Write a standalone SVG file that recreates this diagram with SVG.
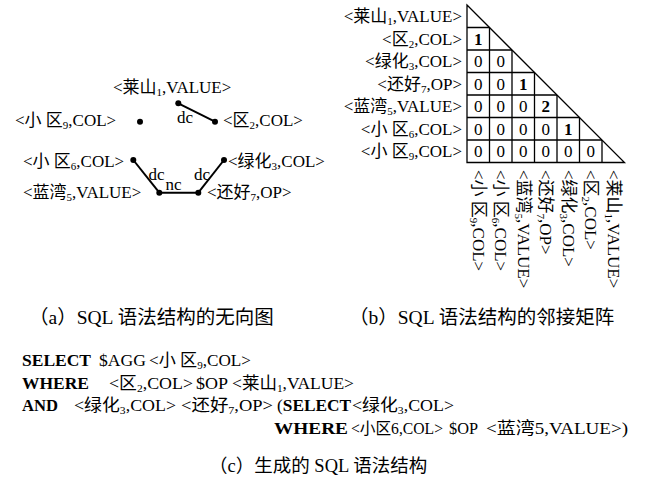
<svg xmlns="http://www.w3.org/2000/svg" width="645" height="487" viewBox="0 0 645 487">
  <style>
    .t { font-family: "Liberation Serif", "Noto Sans CJK SC", serif; font-size: 17px; fill: #000; }
    .b { font-weight: bold; }
    .sub { font-size: 11px; }
    .cap { font-family: "Liberation Serif", "Noto Sans CJK SC", serif; font-size: 19.5px; fill: #000; }
    .edge { stroke: #000; stroke-width: 2; fill: none; }
    .grid { stroke: #000; stroke-width: 1.3; fill: none; }
    .dot { fill: #000; }
    .num { font-family: "Liberation Serif", serif; font-size: 17px; fill: #000; text-anchor: middle; }
  </style>
  <rect width="645" height="487" fill="#fff"/>

  <!-- (a) undirected graph -->
  <g id="connectors">
    <line class="edge" x1="178.3" y1="103.3" x2="215" y2="121.7"/>
    <text class="t" x="185" y="123" text-anchor="middle">dc</text>
    <line class="edge" x1="133.3" y1="160" x2="159.3" y2="192.7"/>
    <text class="t" x="156.5" y="180" text-anchor="middle">dc</text>
    <line class="edge" x1="159.3" y1="192.7" x2="198.3" y2="192.7"/>
    <text class="t" x="173.5" y="190" text-anchor="middle">nc</text>
    <line class="edge" x1="198.3" y1="192.7" x2="224" y2="160"/>
    <text class="t" x="202" y="180" text-anchor="middle">dc</text>
  </g>

  <g id="node-laishan1">
    <circle class="dot" cx="178.3" cy="103.3" r="3"/>
    <text class="t" x="113" y="93">&lt;莱山<tspan class="sub" dy="3">1</tspan><tspan dy="-3">,VALUE&gt;</tspan></text>
  </g>
  <g id="node-qu2">
    <circle class="dot" cx="215" cy="121.7" r="3"/>
    <text class="t" x="223" y="126">&lt;区<tspan class="sub" dy="3">2</tspan><tspan dy="-3">,COL&gt;</tspan></text>
  </g>
  <g id="node-xiaoqu9">
    <circle class="dot" cx="140" cy="121.7" r="3"/>
    <text class="t" x="15" y="126">&lt;小 区<tspan class="sub" dy="3">9</tspan><tspan dy="-3">,COL&gt;</tspan></text>
  </g>
  <g id="node-xiaoqu6">
    <circle class="dot" cx="133.3" cy="160" r="3"/>
    <text class="t" x="23" y="167">&lt;小 区<tspan class="sub" dy="3">6</tspan><tspan dy="-3">,COL&gt;</tspan></text>
  </g>
  <g id="node-lvhua3">
    <circle class="dot" cx="224" cy="160" r="3"/>
    <text class="t" x="228" y="167">&lt;绿化<tspan class="sub" dy="3">3</tspan><tspan dy="-3">,COL&gt;</tspan></text>
  </g>
  <g id="node-lanwan5">
    <circle class="dot" cx="159.3" cy="192.7" r="3"/>
    <text class="t" x="23" y="198">&lt;蓝湾<tspan class="sub" dy="3">5</tspan><tspan dy="-3">,VALUE&gt;</tspan></text>
  </g>
  <g id="node-haihao7">
    <circle class="dot" cx="198.3" cy="192.7" r="3"/>
    <text class="t" x="207" y="198">&lt;还好<tspan class="sub" dy="3">7</tspan><tspan dy="-3">,OP&gt;</tspan></text>
  </g>

  <!-- (b) lower-triangular adjacency matrix -->
  <g id="matrix">
    <path class="grid" d="M467 5 L624.5 162.5 L467 162.5 Z"/>
    <path class="grid" d="M489.5 27.5 V162.5 M512 50 V162.5 M534.5 72.5 V162.5 M557 95 V162.5 M579.5 117.5 V162.5 M602 140 V162.5"/>
    <path class="grid" d="M467 27.5 H489.5 M467 50 H512 M467 72.5 H534.5 M467 95 H557 M467 117.5 H579.5 M467 140 H602"/>

    <g id="row-labels" class="t" text-anchor="end">
      <text x="462" y="22">&lt;莱山<tspan class="sub" dy="3">1</tspan><tspan dy="-3">,VALUE&gt;</tspan></text>
      <text x="462" y="45">&lt;区<tspan class="sub" dy="3">2</tspan><tspan dy="-3">,COL&gt;</tspan></text>
      <text x="462" y="67">&lt;绿化<tspan class="sub" dy="3">3</tspan><tspan dy="-3">,COL&gt;</tspan></text>
      <text x="462" y="90">&lt;还好<tspan class="sub" dy="3">7</tspan><tspan dy="-3">,OP&gt;</tspan></text>
      <text x="462" y="112">&lt;蓝湾<tspan class="sub" dy="3">5</tspan><tspan dy="-3">,VALUE&gt;</tspan></text>
      <text x="462" y="135">&lt;小 区<tspan class="sub" dy="3">6</tspan><tspan dy="-3">,COL&gt;</tspan></text>
      <text x="462" y="157">&lt;小 区<tspan class="sub" dy="3">9</tspan><tspan dy="-3">,COL&gt;</tspan></text>
    </g>

    <g id="cells">
      <text class="num b" x="478.25" y="45">1</text>
      <text class="num" x="478.25" y="67">0</text>
      <text class="num" x="500.75" y="67">0</text>
      <text class="num" x="478.25" y="90">0</text>
      <text class="num" x="500.75" y="90">0</text>
      <text class="num b" x="523.25" y="90">1</text>
      <text class="num" x="478.25" y="112">0</text>
      <text class="num" x="500.75" y="112">0</text>
      <text class="num" x="523.25" y="112">0</text>
      <text class="num b" x="545.75" y="112">2</text>
      <text class="num" x="478.25" y="135">0</text>
      <text class="num" x="500.75" y="135">0</text>
      <text class="num" x="523.25" y="135">0</text>
      <text class="num" x="545.75" y="135">0</text>
      <text class="num b" x="568.25" y="135">1</text>
      <text class="num" x="478.25" y="157">0</text>
      <text class="num" x="500.75" y="157">0</text>
      <text class="num" x="523.25" y="157">0</text>
      <text class="num" x="545.75" y="157">0</text>
      <text class="num" x="568.25" y="157">0</text>
      <text class="num" x="590.75" y="157">0</text>
    </g>

    <g id="column-labels" class="t">
      <text x="472.75" y="170" transform="rotate(90 472.75 170)">&lt;小 区<tspan class="sub" dy="3">9</tspan><tspan dy="-3">,COL&gt;</tspan></text>
      <text x="495.25" y="170" transform="rotate(90 495.25 170)">&lt;小 区<tspan class="sub" dy="3">6</tspan><tspan dy="-3">,COL&gt;</tspan></text>
      <text x="517.75" y="170" transform="rotate(90 517.75 170)">&lt;蓝湾<tspan class="sub" dy="3">5</tspan><tspan dy="-3">,VALUE&gt;</tspan></text>
      <text x="540.25" y="170" transform="rotate(90 540.25 170)">&lt;还好<tspan class="sub" dy="3">7</tspan><tspan dy="-3">,OP&gt;</tspan></text>
      <text x="562.75" y="170" transform="rotate(90 562.75 170)">&lt;绿化<tspan class="sub" dy="3">3</tspan><tspan dy="-3">,COL&gt;</tspan></text>
      <text x="585.25" y="170" transform="rotate(90 585.25 170)">&lt;区<tspan class="sub" dy="3">2</tspan><tspan dy="-3">,COL&gt;</tspan></text>
      <text x="607.75" y="170" transform="rotate(90 607.75 170)">&lt;莱山<tspan class="sub" dy="3">1</tspan><tspan dy="-3">,VALUE&gt;</tspan></text>
    </g>
  </g>

  <!-- captions -->
  <text class="cap" x="29" y="324">（a）SQL 语法结构的无向图</text>
  <text class="cap" x="349" y="324">（b）SQL 语法结构的邻接矩阵</text>

  <!-- (c) generated SQL structure: each token is fitted to its column -->
  <g id="sql" class="t">
    <text class="b" x="22" y="366" textLength="69" lengthAdjust="spacingAndGlyphs">SELECT</text>
    <text x="99" y="366" textLength="47" lengthAdjust="spacingAndGlyphs">$AGG</text>
    <text x="149" y="366" textLength="102" lengthAdjust="spacingAndGlyphs">&lt;小 区<tspan class="sub" dy="3">9</tspan><tspan dy="-3">,COL&gt;</tspan></text>

    <text class="b" x="22" y="388.5" textLength="67" lengthAdjust="spacingAndGlyphs">WHERE</text>
    <text x="109" y="388.5" textLength="84" lengthAdjust="spacingAndGlyphs">&lt;区<tspan class="sub" dy="3">2</tspan><tspan dy="-3">,COL&gt;</tspan></text>
    <text x="196" y="388.5" textLength="32" lengthAdjust="spacingAndGlyphs">$OP</text>
    <text x="232" y="388.5" textLength="122" lengthAdjust="spacingAndGlyphs">&lt;莱山<tspan class="sub" dy="3">1</tspan><tspan dy="-3">,VALUE&gt;</tspan></text>

    <text class="b" x="22" y="411" textLength="36" lengthAdjust="spacingAndGlyphs">AND</text>
    <text x="74" y="411" textLength="102" lengthAdjust="spacingAndGlyphs">&lt;绿化<tspan class="sub" dy="3">3</tspan><tspan dy="-3">,COL&gt;</tspan></text>
    <text x="181" y="411" textLength="92" lengthAdjust="spacingAndGlyphs">&lt;还好<tspan class="sub" dy="3">7</tspan><tspan dy="-3">,OP&gt;</tspan></text>
    <text x="277" y="411" textLength="74" lengthAdjust="spacingAndGlyphs">(<tspan class="b">SELECT</tspan></text>
    <text x="352" y="411" textLength="102" lengthAdjust="spacingAndGlyphs">&lt;绿化<tspan class="sub" dy="3">3</tspan><tspan dy="-3">,COL&gt;</tspan></text>

    <text class="b" x="274" y="434" textLength="74" lengthAdjust="spacingAndGlyphs">WHERE</text>
    <text x="351" y="434" textLength="92" lengthAdjust="spacingAndGlyphs" style="font-size:16px">&lt;小区6,COL&gt;</text>
    <text x="449" y="434" textLength="29" lengthAdjust="spacingAndGlyphs">$OP</text>
    <text x="486" y="434" textLength="142" lengthAdjust="spacingAndGlyphs">&lt;蓝湾5,VALUE&gt;)</text>
  </g>
  <text class="cap" x="209" y="472" style="font-size:18.5px">（c）生成的 SQL 语法结构</text>
</svg>
